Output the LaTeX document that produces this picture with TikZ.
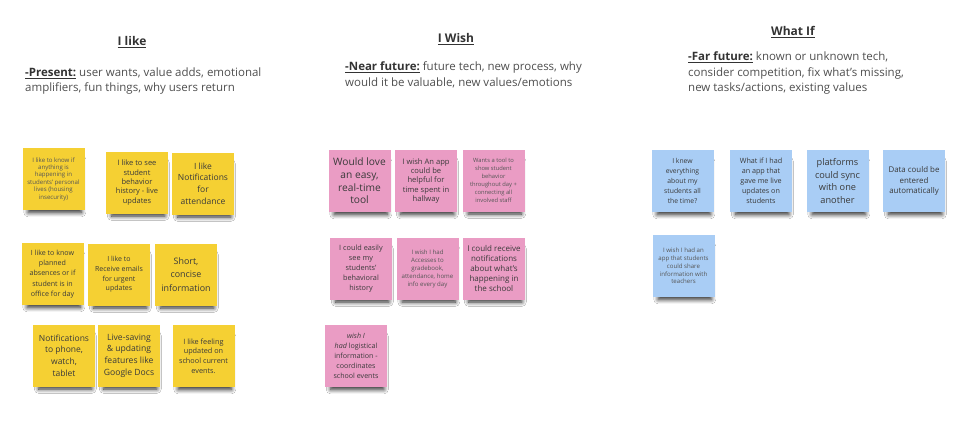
\documentclass[tikz,border=0pt]{standalone}
\usepackage{fontspec}
\setmainfont{Open Sans}
\usetikzlibrary{shadows.blur}
\definecolor{stY}{HTML}{F5D033}
\definecolor{stP}{HTML}{EA9CC4}
\definecolor{stB}{HTML}{A9CDF5}
\definecolor{txt}{HTML}{3A3A3A}
\definecolor{sub}{HTML}{4F4F4F}
\definecolor{lite}{HTML}{555555}
\definecolor{head}{HTML}{333333}
\tikzset{
  fs/.style 2 args={font=\fontsize{#1}{#2}\selectfont},
  sticky/.style={minimum width=62pt, minimum height=62pt, inner sep=1pt, align=center, text=txt,
    blur shadow={shadow xshift=1.5pt, shadow yshift=-8pt, shadow scale=0.86, shadow blur radius=5pt, shadow blur steps=8, shadow opacity=85}},
  yst/.style={sticky, fill=stY},
  pst/.style={sticky, fill=stP},
  bst/.style={sticky, fill=stB},
  heading/.style={text=head, font=\fontsize{12}{15}\selectfont\bfseries},
  subtxt/.style={text=sub, anchor=west, align=left, inner sep=0pt, font=\fontsize{11.5}{15.5}\selectfont}
}
\begin{document}
\begin{tikzpicture}[x=1pt,y=-1pt]
\useasboundingbox[fill=white] (0,0) rectangle (975,429);
% headings
\node[heading] (h1) at (132,42) {\underline{I like}};
\node[heading] (h2) at (456,39) {\underline{I Wish}};
\node[heading] (h3) at (793,32) {\underline{What If}};
\node[subtxt] (s1) at (25,81) {{\color{head}\bfseries\underline{-Present:}} user wants, value adds, emotional\\amplifiers, fun things, why users return};
\node[subtxt] (s2) at (345,75) {{\color{head}\bfseries\underline{-Near future:}} future tech, new process, why\\would it be valuable, new values/emotions};
\node[subtxt] (s3) at (688,73) {{\color{head}\bfseries\underline{-Far future:}} known or unknown tech,\\consider competition, fix what's missing,\\new tasks/actions, existing values};
% yellow
\node[yst, fs={6.1}{7.4}, text=lite] (y1) at (53.5,179) {I like to know if\\anything is\\happening in\\students' personal\\lives (housing\\insecurity)};
\node[yst, fs={7.5}{9.3}] (y2) at (137,182.5) {I like to see\\student\\behavior\\history - live\\updates};
\node[yst, fs={8.5}{11.7}] (y3) at (203,183.5) {I like\\Notifications\\for\\attendance};
\node[yst, fs={7.1}{10.2}] (y4) at (52.5,274) {I like to know\\planned\\absences or if\\student is in\\office for day};
\node[yst, fs={7}{9.7}] (y5) at (119,274.5) {I like to\\Receive emails\\for urgent\\updates};
\node[yst, fs={8.9}{13.3}] (y6) at (186,274.5) {Short,\\concise\\information};
\node[yst, fs={8.5}{11.7}] (y7) at (64,355.5) {Notifications\\to phone,\\watch,\\tablet};
\node[yst, fs={8.6}{11.7}] (y8) at (129,355.5) {Live-saving\\\& updating\\features like\\Google Docs};
\node[yst, fs={7.3}{9.7}] (y9) at (203.5,356) {I like feeling\\updated on\\school current\\events.};
% pink
\node[pst, fs={10.2}{12.6}] (p1) at (359.5,181) {Would love\\an easy,\\real-time\\tool};
\node[pst, fs={7.6}{9.3}] (p2) at (426,181) {I wish An app\\could be\\helpful for\\time spent in\\hallway};
\node[pst, fs={5.8}{8}, text=lite] (p3) at (493.5,180.5) {Wants a tool to\\show student\\behavior\\throughout day +\\connecting all\\involved staff};
\node[pst, fs={7.3}{10}] (p4) at (361,268.5) {I could easily\\see my\\students'\\behavioral\\history};
\node[pst, fs={6.1}{8}, text=lite] (p5) at (427.5,268.5) {I wish I had\\Accesses to\\gradebook,\\attendance, home\\info every day};
\node[pst, fs={8}{10}] (p6) at (494,268.5) {I could receive\\notifications\\about what's\\happening in\\the school};
\node[pst, fs={7.1}{10}] (p7) at (356,356) {\itshape wish I\\\itshape had \upshape logistical\\information -\\coordinates\\school events};
% blue
\node[bst, fs={6.8}{9.8}] (b1) at (682.5,181) {I knew\\everything\\about my\\students all\\the time?};
\node[bst, fs={7.2}{10}] (b2) at (761,181) {What if I had\\an app that\\gave me live\\updates on\\students};
\node[bst, fs={9.2}{12.7}] (b3) at (837.5,181) {platforms\\could sync\\with one\\another};
\node[bst, fs={7.9}{10.8}] (b4) at (914,181) {Data could be\\entered\\automatically};
\node[bst, fs={6.1}{7.8}, text=lite] (b5) at (683.5,266) {I wish I had an\\app that students\\could share\\information with\\teachers};
\end{tikzpicture}
\end{document}
